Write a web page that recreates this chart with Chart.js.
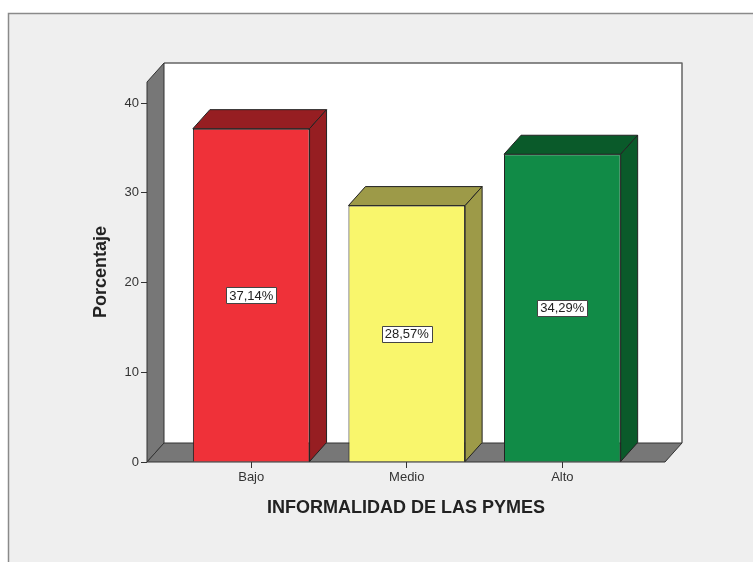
<!DOCTYPE html>
<html>
<head>
<meta charset="utf-8">
<script src="https://cdn.jsdelivr.net/npm/chart.js@4.4.0/dist/chart.umd.min.js"></script>
<style>
  html, body { margin: 0; padding: 0; background: #fff; }
  #contenedor { width: 753px; height: 562px; }
</style>
</head>
<body>
<div id="contenedor"><canvas id="grafico"></canvas></div>
<script>
// datos del grafico
const categorias = ['Bajo', 'Medio', 'Alto'];
const porcentajes = [37.14, 28.57, 34.29];
const ticksY = [0, 10, 20, 30, 40];

// colores de cada barra (cara frontal y caras laterales)
const colorFrente = ['#ef3139', '#f9f66c', '#118b47'];
const colorLado = ['#961e22', '#9d9a48', '#0a5a2a'];

// profundidad del efecto 3D
const PX = 17, PY = 19;
const fuente = "'Liberation Sans', Arial, sans-serif";

// fondo gris con marco
const fondo = {
  id: 'fondo',
  beforeDraw(chart) {
    const ctx = chart.ctx;
    ctx.save();
    ctx.fillStyle = '#ffffff';
    ctx.fillRect(0, 0, chart.width, chart.height);
    ctx.fillStyle = '#efefef';
    ctx.fillRect(8, 13, chart.width - 8, chart.height - 13);
    ctx.strokeStyle = '#8a8a8a';
    ctx.lineWidth = 1.5;
    ctx.beginPath();
    ctx.moveTo(8.5, chart.height);
    ctx.lineTo(8.5, 13.5);
    ctx.lineTo(chart.width, 13.5);
    ctx.stroke();
    ctx.restore();
  }
};

// paredes: fondo blanco, pared izquierda y piso
const paredes = {
  id: 'paredes',
  beforeDatasetsDraw(chart) {
    const {ctx, chartArea: a} = chart;
    ctx.save();
    ctx.lineJoin = 'round';
    // pared del fondo
    ctx.fillStyle = '#ffffff';
    ctx.fillRect(a.left + PX, a.top - PY, a.right - a.left, a.bottom - a.top);
    ctx.strokeStyle = '#666';
    ctx.lineWidth = 1.5;
    ctx.beginPath();
    ctx.moveTo(a.left + PX, a.top - PY);
    ctx.lineTo(a.right + PX, a.top - PY);
    ctx.lineTo(a.right + PX, a.bottom - PY);
    ctx.stroke();
    ctx.lineWidth = 1;
    ctx.strokeStyle = '#333';
    ctx.fillStyle = '#777777';
    // pared izquierda
    ctx.beginPath();
    ctx.moveTo(a.left, a.top);
    ctx.lineTo(a.left + PX, a.top - PY);
    ctx.lineTo(a.left + PX, a.bottom - PY);
    ctx.lineTo(a.left, a.bottom);
    ctx.closePath();
    ctx.fill();
    ctx.stroke();
    // piso
    ctx.beginPath();
    ctx.moveTo(a.left, a.bottom);
    ctx.lineTo(a.left + PX, a.bottom - PY);
    ctx.lineTo(a.right + PX, a.bottom - PY);
    ctx.lineTo(a.right, a.bottom);
    ctx.closePath();
    ctx.fill();
    ctx.stroke();
    ctx.restore();
  }
};

// caras superior y lateral de cada barra, y etiquetas de porcentaje
const barras3d = {
  id: 'barras3d',
  afterDatasetsDraw(chart) {
    const ctx = chart.ctx;
    const meta = chart.getDatasetMeta(0);
    ctx.save();
    ctx.lineWidth = 1;
    ctx.lineJoin = 'round';
    meta.data.forEach((bar, i) => {
      const {x, y, base, width} = bar.getProps(['x', 'y', 'base', 'width'], true);
      const izq = x - width / 2, der = x + width / 2;
      ctx.strokeStyle = '#222';
      ctx.fillStyle = colorLado[i];
      ctx.beginPath();
      ctx.moveTo(izq, y);
      ctx.lineTo(izq + PX, y - PY);
      ctx.lineTo(der + PX, y - PY);
      ctx.lineTo(der, y);
      ctx.closePath();
      ctx.fill();
      ctx.stroke();
      ctx.beginPath();
      ctx.moveTo(der, y);
      ctx.lineTo(der + PX, y - PY);
      ctx.lineTo(der + PX, base - PY);
      ctx.lineTo(der, base);
      ctx.closePath();
      ctx.fill();
      ctx.stroke();

      // etiqueta
      const texto = porcentajes[i].toFixed(2).replace('.', ',') + '%';
      ctx.font = '13px ' + fuente;
      const w = Math.round(ctx.measureText(texto).width + 6);
      const h = 16;
      const cy = (y + base) / 2;
      const bx = Math.round(x - w / 2) + 0.5, by = Math.round(cy - h / 2) + 0.5;
      ctx.fillStyle = '#ffffff';
      ctx.fillRect(bx, by, w, h);
      ctx.strokeStyle = '#444';
      ctx.strokeRect(bx, by, w, h);
      ctx.fillStyle = '#222';
      ctx.textAlign = 'center';
      ctx.textBaseline = 'middle';
      ctx.fillText(texto, x, cy + 1);
    });
    ctx.restore();
  }
};

const ctx = document.getElementById('grafico').getContext('2d');
new Chart(ctx, {
  type: 'bar',
  data: {
    datasets: [{
      data: categorias.map((c, i) => ({x: i, y: porcentajes[i]})),
      backgroundColor: colorFrente,
      borderColor: '#222',
      borderWidth: 1,
      categoryPercentage: 1,
      barPercentage: 0.75
    }]
  },
  options: {
    responsive: true,
    maintainAspectRatio: false,
    animation: false,
    layout: { padding: { top: 82, right: 88, left: 0, bottom: 0 } },
    plugins: {
      legend: { display: false },
      tooltip: { enabled: false }
    },
    scales: {
      x: {
        type: 'linear',
        min: -0.67,
        max: 2.66,
        offset: false,
        afterBuildTicks: (s) => { s.ticks = categorias.map((c, i) => ({value: i})); },
        afterFit: (s) => { s.height = 100; },
        border: { display: false },
        grid: { offset: false, drawOnChartArea: false, drawTicks: true, tickLength: 6, color: '#333' },
        ticks: {
          callback: (v) => categorias[v],
          color: '#333',
          padding: 2,
          maxRotation: 0,
          font: { family: fuente, size: 13 }
        },
        title: {
          display: true,
          text: 'INFORMALIDAD DE LAS PYMES',
          color: '#222',
          font: { family: fuente, size: 18, weight: 'bold' },
          padding: { top: 0, bottom: 43 }
        }
      },
      y: {
        min: 0,
        max: 42.34,
        afterBuildTicks: (s) => { s.ticks = ticksY.map(v => ({value: v})); },
        afterFit: (s) => { s.width = 147; },
        border: { display: false },
        grid: { drawOnChartArea: false, drawTicks: true, tickLength: 6, color: '#333' },
        ticks: {
          color: '#333',
          padding: 2,
          font: { family: fuente, size: 13 }
        },
        title: {
          display: true,
          text: 'Porcentaje',
          color: '#222',
          font: { family: fuente, size: 18, weight: 'bold' },
          padding: { top: 90, bottom: 0 }
        }
      }
    }
  },
  plugins: [fondo, paredes, barras3d]
});
</script>
</body>
</html>
